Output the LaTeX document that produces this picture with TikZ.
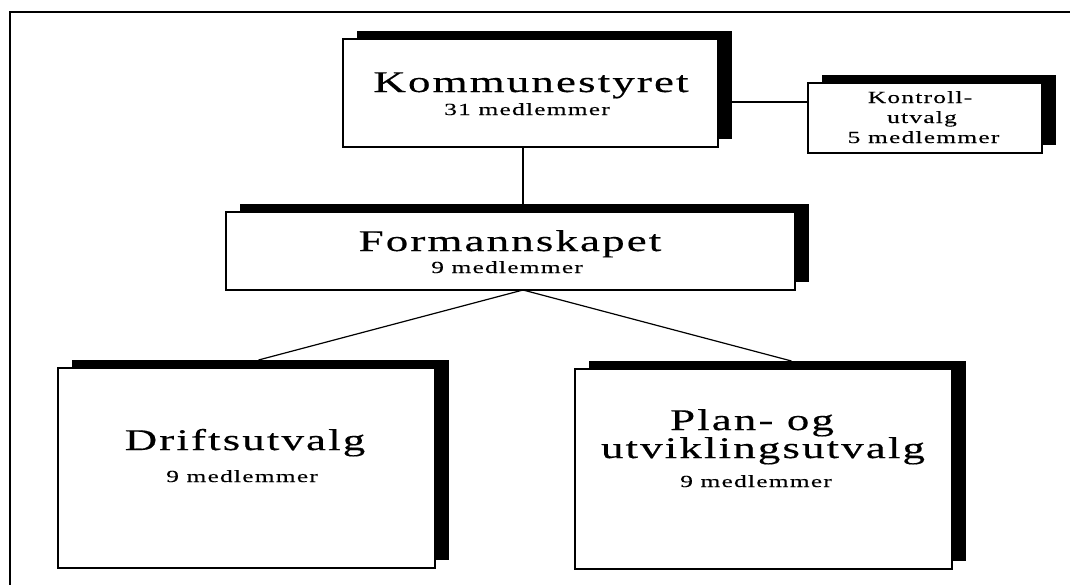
\documentclass[tikz,border=0pt]{standalone}
\usepackage{fontspec}
\usetikzlibrary{shadows}
\newfontfamily\boxfont[FakeStretch=1.5,LetterSpace=7,FakeBold=0.4]{Liberation Serif}
\newfontfamily\memberfont[FakeStretch=1.5,LetterSpace=7,FakeBold=0.2]{Liberation Serif}

\begin{document}
\begin{tikzpicture}[x=1pt,y=-1pt]
        % Define styles
        \tikzset{
            unit/.style={rectangle, draw, line width=1.3pt, fill=white, inner sep=0pt, outer sep=0pt,
                drop shadow={shadow xshift=14pt, shadow yshift=8pt, fill=black, opacity=1}},
            title/.style={font=\boxfont\fontsize{30}{30}\selectfont, anchor=base, inner sep=0pt},
            members/.style={font=\memberfont\fontsize{17}{17}\selectfont, anchor=base, inner sep=0pt},
            link/.style={line width=1.2pt}
        }
        \useasboundingbox (0,0) rectangle (1070,584);

        % Frame
        \draw[line width=2.5pt] (10,590) -- (10,12) -- (1075,12);

        % Boxes
        \node[unit, minimum width=375pt, minimum height=108pt] (box_komm) at (530.5,93) {};
        \node[unit, minimum width=234pt, minimum height=70pt] (box_kontroll) at (925,118) {};
        \node[unit, minimum width=569pt, minimum height=78pt] (box_form) at (510.5,251) {};
        \node[unit, minimum width=377pt, minimum height=200pt] (box_drift) at (246.5,468) {};
        \node[unit, minimum width=377pt, minimum height=200pt] (box_plan) at (763.5,469) {};

        % Texts
        \node[title] (title_komm) at (531,92) {Kommunestyret};
        \node[members] (sub_komm) at (527,115) {31 medlemmer};
        \node[members] (title_kontroll_1) at (920,103) {Kontroll-};
        \node[members] (title_kontroll_2) at (922,123) {utvalg};
        \node[members] (sub_kontroll) at (923.5,143) {5 medlemmer};
        \node[title] (title_form) at (510,251) {Formannskapet};
        \node[members] (sub_form) at (507,273) {9 medlemmer};
        \node[title] (title_drift) at (245,450) {Driftsutvalg};
        \node[members] (sub_drift) at (242,482) {9 medlemmer};
        \node[title] (title_plan_1) at (752,430) {Plan- og};
        \node[title] (title_plan_2) at (763,458) {utviklingsutvalg};
        \node[members] (sub_plan) at (756,487) {9 medlemmer};

        % Lines
        \draw[link] ([xshift=-7.5pt]box_komm.south) -- ([xshift=12.5pt]box_form.north);
        \draw[link] ([yshift=16pt]box_kontroll.west) -- ([yshift=16pt]box_kontroll.west -| box_komm.east);
        \draw[link] ([xshift=12.5pt]box_form.south) -- ([xshift=12pt,yshift=8pt]box_drift.north);
        \draw[link] ([xshift=12.5pt]box_form.south) -- ([xshift=28pt,yshift=8pt]box_plan.north);
\end{tikzpicture}
\end{document}
